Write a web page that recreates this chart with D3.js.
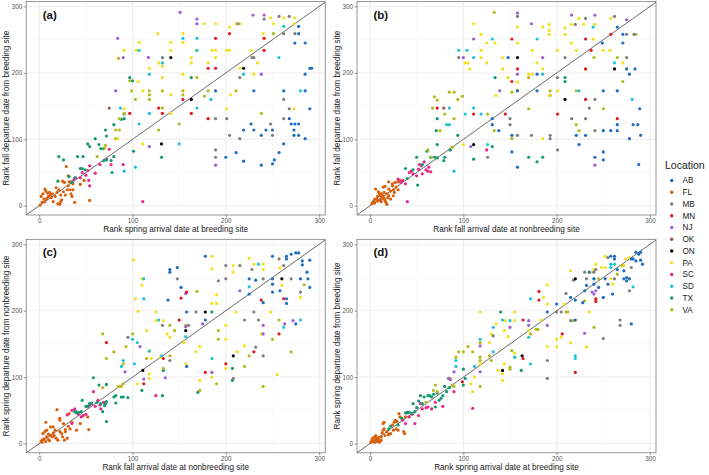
<!DOCTYPE html>
<html>
<head>
<meta charset="utf-8">
<script src="https://cdn.jsdelivr.net/npm/d3@7"></script>
<style>
  body { margin: 0; background: #fff; }
  svg { font-family: "Liberation Sans", Arial, sans-serif; }
</style>
</head>
<body>
<span></span>
<script>
let width = 709;
let height = 475;

// locations and their colours (legend order)
let locations = ["AB", "FL", "MB", "MN", "NJ", "OK", "ON", "PA", "SC", "SD", "TX", "VA"];
let locColors = ["#1f6cc0", "#d8600c", "#7f7f7f", "#e3171d", "#9a5fd0", "#8b5a4b", "#000000", "#f2e11c", "#e7288a", "#1cc3d8", "#139a72", "#b5b81e"];

let ticks = [0, 100, 200, 300];
let minorTicks = [50, 150, 250];
let panelLabels = ["(a)", "(b)", "(c)", "(d)"];
let xTitles = ["Rank spring arrival date at breeding site", "Rank fall arrival date at nonbreeding site",
               "Rank fall arrival date at nonbreeding site", "Rank spring arrival date at breeding site"];
let yTitles = ["Rank fall departure date from breeding site", "Rank fall departure date from breeding site",
               "Rank spring departure date from nonbreeding site", "Rank spring departure date from breeding site"];

// points: [x rank, y rank, location]
let panelA = [
  [189,173,"AB"],[200,73,"AB"],[211,80,"AB"],[219,114,"AB"],[219,67,"AB"],[227,123,"AB"],[230,173,"AB"],[230,114,"AB"],[238,106,"AB"],[238,61,"AB"],[243,114,"AB"],[250,114,"AB"],[250,63,"AB"],[252,69,"AB"],[257,80,"AB"],[262,173,"AB"],[262,93,"AB"],[268,131,"AB"],[270,123,"AB"],[273,114,"AB"],[273,106,"AB"],[274,245,"AB"],[274,123,"AB"],[278,259,"AB"],[278,270,"AB"],[278,123,"AB"],[278,106,"AB"],[285,245,"AB"],[285,198,"AB"],[285,173,"AB"],[285,101,"AB"],[290,207,"AB"],[292,207,"AB"],[290,146,"AB"],
  [1,1,"FL"],[3,5,"FL"],[5,10,"FL"],[2,14,"FL"],[4,18,"FL"],[6,6,"FL"],[8,11,"FL"],[10,14,"FL"],[12,16,"FL"],[13,12,"FL"],[15,6,"FL"],[17,14,"FL"],[19,20,"FL"],[21,24,"FL"],[23,16,"FL"],[23,6,"FL"],[22,2,"FL"],[24,9,"FL"],[26,21,"FL"],[28,16,"FL"],[30,24,"FL"],[31,30,"FL"],[33,24,"FL"],[34,18,"FL"],[35,14,"FL"],[36,24,"FL"],[38,5,"FL"],[11,20,"FL"],[9,19,"FL"],[7,22,"FL"],[14,18,"FL"],[20,3,"FL"],[25,37,"FL"],[27,35,"FL"],[32,36,"FL"],[34,36,"FL"],[44,32,"FL"],[48,38,"FL"],[54,8,"FL"],[6,25,"FL"],[29,59,"FL"],[31,45,"FL"],[18,27,"FL"],[36,33,"FL"],
  [37,39,"SC"],[44,42,"SC"],[52,53,"SC"],[54,60,"SC"],[53,38,"SC"],[54,30,"SC"],[60,49,"SC"],[65,62,"SC"],[72,70,"SC"],[75,85,"SC"],[77,62,"SC"],[90,62,"SC"],[111,6,"SC"],[50,46,"SC"],[39,42,"SC"],[46,50,"SC"],
  [21,74,"TX"],[26,69,"TX"],[41,74,"TX"],[47,74,"TX"],[44,56,"TX"],[46,56,"TX"],[38,42,"TX"],[32,44,"TX"],[52,93,"TX"],[54,89,"TX"],[49,54,"TX"],[60,101,"TX"],[64,92,"TX"],[66,86,"TX"],[69,86,"TX"],[71,114,"TX"],[72,105,"TX"],[80,122,"TX"],[77,68,"TX"],[78,50,"TX"],[80,74,"TX"],[69,68,"TX"],[91,138,"TX"],[91,131,"TX"],[88,130,"TX"],[97,193,"TX"],[100,188,"TX"],[101,82,"TX"],[131,73,"TX"],[163,193,"TX"],[72,69,"TX"],[20,37,"TX"],[35,35,"TX"],
  [85,222,"VA"],[97,188,"VA"],[99,173,"VA"],[103,160,"VA"],[118,173,"VA"],[118,167,"VA"],[118,160,"VA"],[132,173,"VA"],[132,147,"VA"],[128,114,"VA"],[150,123,"VA"],[154,173,"VA"],[154,167,"VA"],[169,193,"VA"],[177,165,"VA"],[181,173,"VA"],[211,173,"VA"],[238,139,"VA"],[251,259,"VA"],[82,114,"VA"],[86,114,"VA"],[86,131,"VA"],[91,139,"VA"],[71,91,"VA"],[70,87,"VA"],[62,74,"VA"],[82,101,"VA"],
  [127,259,"PA"],[107,246,"PA"],[104,234,"PA"],[91,234,"PA"],[106,187,"PA"],[111,173,"PA"],[111,93,"PA"],[91,146,"PA"],[132,210,"PA"],[132,193,"PA"],[128,215,"PA"],[118,207,"PA"],[141,234,"PA"],[141,246,"PA"],[141,167,"PA"],[141,139,"PA"],[154,259,"PA"],[154,246,"PA"],[154,198,"PA"],[168,234,"PA"],[163,223,"PA"],[163,215,"PA"],[177,274,"PA"],[181,215,"PA"],[185,234,"PA"],[189,274,"PA"],[189,234,"PA"],[189,223,"PA"],[201,234,"PA"],[204,234,"PA"],[204,269,"PA"],[205,167,"PA"],[211,274,"PA"],[215,274,"PA"],[215,207,"PA"],[227,234,"PA"],[230,198,"PA"],[234,215,"PA"],[248,283,"PA"],[251,274,"PA"],[262,283,"PA"],[273,274,"PA"],[274,283,"PA"],[273,146,"PA"],[201,146,"PA"],[240,259,"PA"],[84,101,"PA"],
  [132,223,"MB"],[189,131,"MB"],[189,84,"MB"],[189,73,"MB"],[201,131,"MB"],[204,106,"MB"],[213,274,"MB"],[215,193,"MB"],[215,101,"MB"],[228,223,"MB"],[230,223,"MB"],[241,281,"MB"],[248,123,"MB"],[250,106,"MB"],[257,285,"MB"],[262,131,"MB"],[262,160,"MB"],[268,285,"MB"],[268,146,"MB"],[274,259,"MB"],[262,259,"MB"],
  [141,223,"ON"],[131,93,"ON"],[163,160,"ON"],[219,207,"ON"],
  [75,147,"OK"],
  [97,139,"MN"],[128,147,"MN"],[132,139,"MN"],[154,160,"MN"],[163,139,"MN"],[181,131,"MN"],[181,207,"MN"],[189,207,"MN"],[189,252,"MN"],[204,259,"MN"],[241,252,"MN"],[241,234,"MN"],
  [84,252,"NJ"],[90,223,"NJ"],[82,173,"NJ"],[117,223,"NJ"],[118,89,"NJ"],[151,291,"NJ"],[169,281,"NJ"],[169,274,"NJ"],[189,61,"NJ"],[229,287,"NJ"],[241,287,"NJ"],[238,198,"NJ"],
  [107,234,"SD"],[87,147,"SD"],[118,139,"SD"],[118,198,"SD"],[132,215,"SD"],[107,123,"SD"],[91,52,"SD"],[103,58,"SD"],[150,93,"SD"],[154,252,"SD"],[169,252,"SD"],[169,234,"SD"],[169,147,"SD"],[184,160,"SD"],[219,198,"SD"],[257,223,"SD"],[262,270,"SD"],[280,173,"SD"]
];

let panelB = [
  [2,3,"FL"],[3,5,"FL"],[5,4,"FL"],[8,7,"FL"],[7,10,"FL"],[10,8,"FL"],[12,10,"FL"],[8,14,"FL"],[10,18,"FL"],[12,18,"FL"],[14,15,"FL"],[15,20,"FL"],[13,14,"FL"],[15,11,"FL"],[16,8,"FL"],[17,5,"FL"],[18,2,"FL"],[19,12,"FL"],[20,15,"FL"],[22,10,"FL"],[20,25,"FL"],[22,22,"FL"],[25,24,"FL"],[24,30,"FL"],[18,18,"FL"],[12,6,"FL"],[14,28,"FL"],[28,28,"FL"],[27,35,"FL"],[30,24,"FL"],[30,36,"FL"],[26,20,"FL"],[25,15,"FL"],[9,21,"FL"],[6,25,"FL"],[5,10,"FL"],[11,15,"FL"],[4,7,"FL"],[24,33,"FL"],[32,38,"FL"],[20,36,"FL"],[16,29,"FL"],
  [30,40,"SC"],[33,35,"SC"],[35,38,"SC"],[38,33,"SC"],[42,50,"SC"],[44,52,"SC"],[46,48,"SC"],[50,45,"SC"],[52,55,"SC"],[53,62,"SC"],[56,48,"SC"],[58,66,"SC"],[60,54,"SC"],[62,52,"SC"],[63,58,"SC"],[65,51,"SC"],[40,6,"SC"],[55,60,"SC"],[125,84,"SC"],
  [50,73,"TX"],[61,82,"TX"],[65,73,"TX"],[69,73,"TX"],[72,72,"TX"],[72,92,"TX"],[71,113,"TX"],[72,131,"TX"],[80,73,"TX"],[79,68,"TX"],[86,84,"TX"],[94,106,"TX"],[111,70,"TX"],[131,89,"TX"],[134,193,"TX"],[170,73,"TX"],[185,73,"TX"],[179,66,"TX"],[209,193,"TX"],[209,187,"TX"],[51,31,"TX"],[40,41,"TX"],[46,54,"TX"],[38,56,"TX"],[56,62,"TX"],
  [69,164,"VA"],[72,159,"VA"],[67,147,"VA"],[80,138,"VA"],[85,171,"VA"],[90,171,"VA"],[94,160,"VA"],[99,165,"VA"],[90,131,"VA"],[75,113,"VA"],[62,84,"VA"],[66,73,"VA"],[133,291,"VA"],[126,138,"VA"],[133,113,"VA"],[152,171,"VA"],[152,101,"VA"],[193,173,"VA"],[193,166,"VA"],[170,193,"VA"],[170,146,"VA"],[221,173,"VA"],[221,122,"VA"],[224,113,"VA"],[250,146,"VA"],[265,223,"VA"],[271,187,"VA"],[285,258,"VA"],[240,223,"VA"],[88,88,"VA"],
  [111,274,"PA"],[119,258,"PA"],[125,245,"PA"],[134,245,"PA"],[102,215,"PA"],[107,206,"PA"],[119,234,"PA"],[119,223,"PA"],[125,215,"PA"],[142,223,"PA"],[142,206,"PA"],[148,193,"PA"],[158,186,"PA"],[158,174,"PA"],[158,245,"PA"],[158,269,"PA"],[174,234,"PA"],[170,198,"PA"],[174,198,"PA"],[179,215,"PA"],[185,206,"PA"],[185,269,"PA"],[192,273,"PA"],[192,264,"PA"],[192,258,"PA"],[192,166,"PA"],[185,101,"PA"],[201,234,"PA"],[201,173,"PA"],[209,268,"PA"],[209,258,"PA"],[216,245,"PA"],[216,273,"PA"],[221,234,"PA"],[224,282,"PA"],[229,273,"PA"],[231,206,"PA"],[239,251,"PA"],[241,273,"PA"],[250,234,"PA"],[257,234,"PA"],[258,282,"PA"],[271,215,"PA"],[135,166,"PA"],[100,92,"PA"],[105,215,"PA"],
  [111,251,"NJ"],[100,223,"NJ"],[139,173,"NJ"],[158,290,"NJ"],[158,198,"NJ"],[173,274,"NJ"],[185,223,"NJ"],[216,287,"NJ"],[241,287,"NJ"],[275,280,"NJ"],[108,89,"NJ"],[241,61,"NJ"],
  [95,223,"MB"],[150,131,"MB"],[150,122,"MB"],[158,285,"MB"],[158,106,"MB"],[173,106,"MB"],[193,106,"MB"],[193,101,"MB"],[201,193,"MB"],[201,84,"MB"],[209,223,"MB"],[216,131,"MB"],[220,273,"MB"],[231,282,"MB"],[231,131,"MB"],[235,147,"MB"],[241,160,"MB"],[241,113,"MB"],[262,285,"MB"],[275,258,"MB"],[275,223,"MB"],[283,258,"MB"],[126,73,"MB"],
  [158,223,"ON"],[209,160,"ON"],[111,92,"ON"],[262,206,"ON"],
  [79,147,"OK"],
  [72,147,"MN"],[111,138,"MN"],[152,251,"MN"],[152,187,"MN"],[145,138,"MN"],[158,206,"MN"],[201,138,"MN"],[231,251,"MN"],[231,206,"MN"],[231,160,"MN"],[237,234,"MN"],[258,258,"MN"],[265,131,"MN"],
  [95,234,"SD"],[104,234,"SD"],[111,223,"SD"],[111,147,"SD"],[102,138,"SD"],[85,147,"SD"],[82,122,"SD"],[85,122,"SD"],[119,138,"SD"],[131,251,"SD"],[126,92,"SD"],[90,52,"SD"],[179,251,"SD"],[185,198,"SD"],[224,173,"SD"],[239,269,"SD"],[262,215,"SD"],[281,160,"SD"],
  [131,131,"AB"],[131,122,"AB"],[138,113,"AB"],[148,223,"AB"],[152,106,"AB"],[152,81,"AB"],[158,58,"AB"],[158,173,"AB"],[179,198,"AB"],[179,173,"AB"],[221,106,"AB"],[224,92,"AB"],[231,106,"AB"],[241,73,"AB"],[249,245,"AB"],[250,173,"AB"],[250,113,"AB"],[250,81,"AB"],[250,69,"AB"],[258,113,"AB"],[265,269,"AB"],[265,173,"AB"],[265,122,"AB"],[265,113,"AB"],[271,258,"AB"],[271,245,"AB"],[275,206,"AB"],[278,198,"AB"],[278,101,"AB"],[282,122,"AB"],[284,206,"AB"],[287,122,"AB"],[289,146,"AB"],[288,62,"AB"],[290,106,"AB"]
];

let panelC = [
  [2,3,"FL"],[3,5,"FL"],[5,7,"FL"],[7,3,"FL"],[8,10,"FL"],[10,6,"FL"],[4,15,"FL"],[6,18,"FL"],[8,20,"FL"],[10,14,"FL"],[12,12,"FL"],[14,10,"FL"],[15,16,"FL"],[17,20,"FL"],[18,8,"FL"],[20,5,"FL"],[22,18,"FL"],[24,15,"FL"],[25,10,"FL"],[26,30,"FL"],[28,18,"FL"],[30,8,"FL"],[33,22,"FL"],[7,32,"FL"],[19,51,"FL"],[22,38,"FL"],[22,35,"FL"],[31,26,"FL"],[28,21,"FL"],[35,32,"FL"],[40,20,"FL"],[44,30,"FL"],[53,21,"FL"],[52,40,"FL"],[32,45,"FL"],[12,25,"FL"],[15,25,"FL"],[27,5,"FL"],[3,2,"FL"],[16,12,"FL"],[11,4,"FL"],
  [30,43,"SC"],[35,50,"SC"],[38,52,"SC"],[39,48,"SC"],[42,44,"SC"],[45,40,"SC"],[47,42,"SC"],[50,44,"SC"],[52,55,"SC"],[54,58,"SC"],[56,60,"SC"],[58,78,"SC"],[60,56,"SC"],[63,65,"SC"],[65,58,"SC"],[66,52,"SC"],[69,62,"SC"],[125,72,"SC"],[35,30,"SC"],
  [38,48,"TX"],[40,46,"TX"],[42,47,"TX"],[45,48,"TX"],[46,65,"TX"],[50,56,"TX"],[52,56,"TX"],[54,60,"TX"],[56,61,"TX"],[58,99,"TX"],[62,62,"TX"],[64,88,"TX"],[66,60,"TX"],[68,48,"TX"],[70,57,"TX"],[71,60,"TX"],[72,63,"TX"],[72,33,"TX"],[72,89,"TX"],[80,70,"TX"],[82,72,"TX"],[82,61,"TX"],[88,70,"TX"],[90,70,"TX"],[95,69,"TX"],[110,80,"TX"],[132,72,"TX"],[133,110,"TX"],[170,77,"TX"],[207,113,"TX"],[207,95,"TX"],[185,198,"TX"],
  [68,165,"VA"],[72,128,"VA"],[80,138,"VA"],[85,86,"VA"],[88,86,"VA"],[90,90,"VA"],[93,146,"VA"],[90,120,"VA"],[100,165,"VA"],[115,128,"VA"],[133,113,"VA"],[140,132,"VA"],[145,170,"VA"],[140,178,"VA"],[157,178,"VA"],[169,229,"VA"],[172,80,"VA"],[192,157,"VA"],[192,170,"VA"],[190,90,"VA"],[220,116,"VA"],[225,132,"VA"],[257,186,"VA"],[270,138,"VA"],[284,239,"VA"],[240,86,"VA"],[250,157,"VA"],[68,84,"VA"],
  [101,276,"PA"],[103,218,"PA"],[106,199,"PA"],[110,248,"PA"],[110,238,"PA"],[115,170,"PA"],[118,105,"PA"],[118,98,"PA"],[120,128,"PA"],[125,185,"PA"],[125,198,"PA"],[130,130,"PA"],[133,185,"PA"],[137,165,"PA"],[140,160,"PA"],[155,152,"PA"],[157,120,"PA"],[168,138,"PA"],[172,95,"PA"],[172,146,"PA"],[185,282,"PA"],[185,263,"PA"],[185,211,"PA"],[185,100,"PA"],[190,224,"PA"],[190,211,"PA"],[200,113,"PA"],[200,157,"PA"],[200,178,"PA"],[208,268,"PA"],[208,258,"PA"],[211,198,"PA"],[212,138,"PA"],[220,147,"PA"],[225,279,"PA"],[230,270,"PA"],[238,165,"PA"],[240,262,"PA"],[240,270,"PA"],[248,198,"PA"],[255,104,"PA"],[258,264,"PA"],[260,238,"PA"],[280,220,"PA"],[105,90,"PA"],[118,140,"PA"],
  [92,108,"NJ"],[108,146,"NJ"],[112,97,"NJ"],[135,99,"NJ"],[157,176,"NJ"],[157,226,"NJ"],[185,107,"NJ"],[175,180,"NJ"],[215,230,"NJ"],[240,178,"NJ"],[240,165,"NJ"],[263,180,"NJ"],[272,185,"NJ"],
  [95,160,"MB"],[132,178,"MB"],[140,125,"MB"],[148,248,"MB"],[160,178,"MB"],[168,198,"MB"],[192,245,"MB"],[200,268,"MB"],[200,248,"MB"],[215,268,"MB"],[220,186,"MB"],[228,262,"MB"],[232,145,"MB"],[230,198,"MB"],[240,248,"MB"],[257,278,"MB"],[270,248,"MB"],[280,228,"MB"],[240,132,"MB"],[208,98,"MB"],[262,268,"MB"],[235,186,"MB"],
  [111,110,"ON"],[157,170,"ON"],[178,198,"ON"],[208,132,"ON"],[260,248,"ON"],
  [72,152,"MN"],[112,90,"MN"],[133,128,"MN"],[150,186,"MN"],[152,219,"MN"],[158,228,"MN"],[178,107,"MN"],[200,120,"MN"],[230,138,"MN"],[238,216,"MN"],[257,165,"MN"],[262,218,"MN"],
  [88,116,"SD"],[90,125,"SD"],[100,157,"SD"],[102,120,"SD"],[105,152,"SD"],[112,218,"SD"],[112,248,"SD"],[118,139,"SD"],[128,186,"SD"],[131,132,"SD"],[157,161,"SD"],[185,128,"SD"],[225,236,"SD"],[235,270,"SD"],[262,175,"SD"],[280,186,"SD"],
  [140,262,"AB"],[140,258,"AB"],[148,265,"AB"],[138,216,"AB"],[152,235,"AB"],[158,116,"AB"],[158,198,"AB"],[178,186,"AB"],[178,282,"AB"],[225,225,"AB"],[225,248,"AB"],[232,246,"AB"],[240,212,"AB"],[250,282,"AB"],[250,248,"AB"],[250,240,"AB"],[250,228,"AB"],[258,230,"AB"],[265,278,"AB"],[265,282,"AB"],[265,218,"AB"],[265,211,"AB"],[270,285,"AB"],[275,287,"AB"],[278,287,"AB"],[280,248,"AB"],[282,275,"AB"],[282,269,"AB"],[287,258,"AB"],[288,248,"AB"],[290,276,"AB"],[290,235,"AB"],[275,180,"AB"]
];

let panelD = [
  [1,2,"FL"],[2,5,"FL"],[3,8,"FL"],[4,4,"FL"],[5,2,"FL"],[5,10,"FL"],[6,6,"FL"],[7,3,"FL"],[8,8,"FL"],[9,5,"FL"],[10,2,"FL"],[11,4,"FL"],[12,10,"FL"],[13,16,"FL"],[14,20,"FL"],[14,30,"FL"],[15,22,"FL"],[16,12,"FL"],[18,18,"FL"],[20,14,"FL"],[22,15,"FL"],[24,28,"FL"],[25,20,"FL"],[26,32,"FL"],[27,35,"FL"],[28,22,"FL"],[30,20,"FL"],[31,45,"FL"],[32,40,"FL"],[34,38,"FL"],[36,18,"FL"],[37,15,"FL"],[38,40,"FL"],[3,3,"FL"],[6,12,"FL"],[9,9,"FL"],[12,5,"FL"],[15,32,"FL"],[20,13,"FL"],[29,33,"FL"],
  [35,35,"SC"],[38,30,"SC"],[40,46,"SC"],[42,40,"SC"],[45,44,"SC"],[48,30,"SC"],[52,42,"SC"],[54,60,"SC"],[56,52,"SC"],[60,54,"SC"],[62,55,"SC"],[66,52,"SC"],[70,62,"SC"],[78,56,"SC"],[90,78,"SC"],[110,53,"SC"],
  [20,22,"TX"],[22,26,"TX"],[30,28,"TX"],[34,38,"TX"],[38,46,"TX"],[40,47,"TX"],[42,47,"TX"],[45,45,"TX"],[46,60,"TX"],[48,48,"TX"],[50,54,"TX"],[52,64,"TX"],[54,72,"TX"],[56,60,"TX"],[58,70,"TX"],[62,72,"TX"],[64,72,"TX"],[66,70,"TX"],[68,74,"TX"],[70,55,"TX"],[72,76,"TX"],[74,65,"TX"],[76,68,"TX"],[78,72,"TX"],[80,86,"TX"],[82,78,"TX"],[85,84,"TX"],[100,88,"TX"],[100,112,"TX"],[102,98,"TX"],[140,198,"TX"],[162,110,"TX"],
  [60,62,"VA"],[68,80,"VA"],[70,88,"VA"],[72,78,"VA"],[86,98,"VA"],[88,88,"VA"],[90,86,"VA"],[92,130,"VA"],[95,138,"VA"],[100,138,"VA"],[105,146,"VA"],[110,138,"VA"],[118,125,"VA"],[118,130,"VA"],[118,152,"VA"],[118,86,"VA"],[128,132,"VA"],[130,125,"VA"],[150,112,"VA"],[150,115,"VA"],[152,140,"VA"],[155,130,"VA"],[172,165,"VA"],[178,172,"VA"],[180,172,"VA"],[210,198,"VA"],[212,198,"VA"],[218,185,"VA"],[230,215,"VA"],[240,175,"VA"],[245,248,"VA"],[265,255,"VA"],[270,268,"VA"],
  [108,90,"PA"],[110,78,"PA"],[112,100,"PA"],[118,198,"PA"],[118,120,"PA"],[128,152,"PA"],[130,165,"PA"],[135,180,"PA"],[137,110,"PA"],[142,105,"PA"],[142,95,"PA"],[144,120,"PA"],[144,170,"PA"],[145,185,"PA"],[148,161,"PA"],[155,198,"PA"],[155,185,"PA"],[155,136,"PA"],[170,170,"PA"],[183,186,"PA"],[186,220,"PA"],[190,239,"PA"],[190,146,"PA"],[190,210,"PA"],[200,157,"PA"],[200,146,"PA"],[205,160,"PA"],[208,210,"PA"],[215,152,"PA"],[215,260,"PA"],[232,145,"PA"],[235,198,"PA"],[238,258,"PA"],[240,262,"PA"],[242,270,"PA"],[248,265,"PA"],[252,265,"PA"],[252,282,"PA"],[260,240,"PA"],[272,268,"PA"],[274,278,"PA"],[278,280,"PA"],[258,248,"PA"],
  [84,98,"NJ"],[86,96,"NJ"],[90,108,"NJ"],[118,108,"NJ"],[118,147,"NJ"],[150,175,"NJ"],[170,185,"NJ"],[170,178,"NJ"],[190,178,"NJ"],[238,228,"NJ"],[240,225,"NJ"],[242,230,"NJ"],[230,166,"NJ"],
  [132,162,"MB"],[190,125,"MB"],[190,98,"MB"],[200,198,"MB"],[205,198,"MB"],[210,226,"MB"],[215,185,"MB"],[218,246,"MB"],[230,258,"MB"],[232,248,"MB"],[240,258,"MB"],[242,262,"MB"],[250,158,"MB"],[255,280,"MB"],[262,248,"MB"],[268,186,"MB"],[268,178,"MB"],[278,230,"MB"],[280,265,"MB"],
  [142,110,"ON"],[163,132,"ON"],[220,248,"ON"],
  [99,93,"MN"],[164,186,"MN"],[164,128,"MN"],[181,216,"MN"],[181,229,"MN"],[206,165,"MN"],[220,107,"MN"],[242,218,"MN"],[242,214,"MN"],
  [92,116,"SD"],[92,125,"SD"],[112,116,"SD"],[118,157,"SD"],[132,138,"SD"],[132,175,"SD"],[150,185,"SD"],[155,130,"SD"],[170,160,"SD"],[172,120,"SD"],[172,218,"SD"],[220,128,"SD"],[220,132,"SD"],[240,248,"SD"],[258,270,"SD"],[262,270,"SD"],[282,236,"SD"],[258,265,"SD"],[142,186,"SD"],
  [190,198,"AB"],[200,210,"AB"],[215,220,"AB"],[220,186,"AB"],[220,216,"AB"],[228,212,"AB"],[230,230,"AB"],[232,238,"AB"],[235,258,"AB"],[240,240,"AB"],[240,248,"AB"],[245,235,"AB"],[250,220,"AB"],[252,248,"AB"],[255,240,"AB"],[260,225,"AB"],[262,282,"AB"],[262,278,"AB"],[258,282,"AB"],[265,262,"AB"],[272,260,"AB"],[272,248,"AB"],[275,245,"AB"],[275,250,"AB"],[278,248,"AB"],[280,278,"AB"],[282,278,"AB"],[280,180,"AB"],[285,288,"AB"],[288,285,"AB"],[290,288,"AB"],[290,276,"AB"],[292,270,"AB"],[285,275,"AB"]
];

let panelData = [panelA, panelB, panelC, panelD];

// panel frames (pixels)
let panelW = 299, panelH = 213.5;
let panelPos = [[26.2, 1.5], [357, 1.5], [26.2, 239.3], [357, 239.3]];
let xDomain = [-14, 306.5];
let yDomain = [-14, 307.5];

let color = d3.scaleOrdinal().domain(locations).range(locColors);

let svg = d3.select("span")
    .append("svg")
    .attr("width", width)
    .attr("height", height);

function drawPanel(i) {
    let [left, top] = panelPos[i];
    let x = d3.scaleLinear().domain(xDomain).range([left, left + panelW]);
    let y = d3.scaleLinear().domain(yDomain).range([top + panelH, top]);
    let g = svg.append("g");

    g.append("clipPath").attr("id", "clip" + i)
        .append("rect")
        .attr("x", left).attr("y", top).attr("width", panelW).attr("height", panelH);

    // grid
    g.selectAll(".minx").data(minorTicks).join("line")
        .attr("x1", d => x(d)).attr("x2", d => x(d)).attr("y1", top).attr("y2", top + panelH)
        .attr("stroke", "#f2f2f2").attr("stroke-width", 0.5);
    g.selectAll(".miny").data(minorTicks).join("line")
        .attr("x1", left).attr("x2", left + panelW).attr("y1", d => y(d)).attr("y2", d => y(d))
        .attr("stroke", "#f2f2f2").attr("stroke-width", 0.5);
    g.selectAll(".majx").data(ticks).join("line")
        .attr("x1", d => x(d)).attr("x2", d => x(d)).attr("y1", top).attr("y2", top + panelH)
        .attr("stroke", "#e8e8e8").attr("stroke-width", 0.8);
    g.selectAll(".majy").data(ticks).join("line")
        .attr("x1", left).attr("x2", left + panelW).attr("y1", d => y(d)).attr("y2", d => y(d))
        .attr("stroke", "#e8e8e8").attr("stroke-width", 0.8);

    // 1:1 line
    g.append("line")
        .attr("clip-path", "url(#clip" + i + ")")
        .attr("x1", x(xDomain[0])).attr("y1", y(xDomain[0]))
        .attr("x2", x(yDomain[1])).attr("y2", y(yDomain[1]))
        .attr("stroke", "#5a5a5a").attr("stroke-width", 0.9);

    // points
    g.append("g").selectAll("circle").data(panelData[i]).join("circle")
        .attr("cx", d => x(d[0]))
        .attr("cy", d => y(d[1]))
        .attr("r", 1.6)
        .attr("fill", d => color(d[2]));

    // border
    g.append("rect")
        .attr("x", left).attr("y", top).attr("width", panelW).attr("height", panelH)
        .attr("fill", "none").attr("stroke", "#6a6a6a").attr("stroke-width", 0.7);

    // axes
    let xAxis = g.append("g")
        .attr("transform", "translate(0," + (top + panelH) + ")")
        .call(d3.axisBottom(x).tickValues(ticks).tickSize(2.5).tickPadding(1.5));
    let yAxis = g.append("g")
        .attr("transform", "translate(" + left + ",0)")
        .call(d3.axisLeft(y).tickValues(ticks).tickSize(2.5).tickPadding(1.5));
    [xAxis, yAxis].forEach(a => {
        a.select(".domain").remove();
        a.selectAll(".tick line").attr("stroke", "#555").attr("stroke-width", 0.6);
        a.selectAll(".tick text").attr("fill", "#555").attr("font-size", 6.3)
            .attr("font-family", "Liberation Sans, Arial, sans-serif");
    });

    // titles
    g.append("text")
        .attr("x", left + panelW / 2).attr("y", top + panelH + 17)
        .attr("text-anchor", "middle").attr("font-size", 8.2).attr("fill", "#222")
        .text(xTitles[i]);
    g.append("text")
        .attr("transform", "translate(" + (left - 17.5) + "," + (top + panelH / 2) + ") rotate(-90)")
        .attr("text-anchor", "middle").attr("font-size", 8.2).attr("fill", "#222")
        .text(yTitles[i]);

    // panel label
    g.append("text")
        .attr("x", x(xDomain[0]) + 16.5).attr("y", top + 17)
        .attr("font-size", 11.5).attr("font-weight", "bold").attr("fill", "#111")
        .text(panelLabels[i]);
}

for (let i = 0; i < 4; i++) drawPanel(i);

// legend
let legend = svg.append("g");
legend.append("text")
    .attr("x", 665).attr("y", 168.5)
    .attr("font-size", 10.5).attr("fill", "#222")
    .text("Location");
let item = legend.selectAll(".item").data(locations).join("g")
    .attr("transform", (d, k) => "translate(0," + (180.5 + k * 11.75) + ")");
item.append("circle").attr("cx", 671.7).attr("cy", 0).attr("r", 1.7).attr("fill", d => color(d));
item.append("text").attr("x", 682.5).attr("y", 0).attr("dy", "0.35em")
    .attr("font-size", 8.2).attr("fill", "#222").text(d => d);
</script>
</body>
</html>
